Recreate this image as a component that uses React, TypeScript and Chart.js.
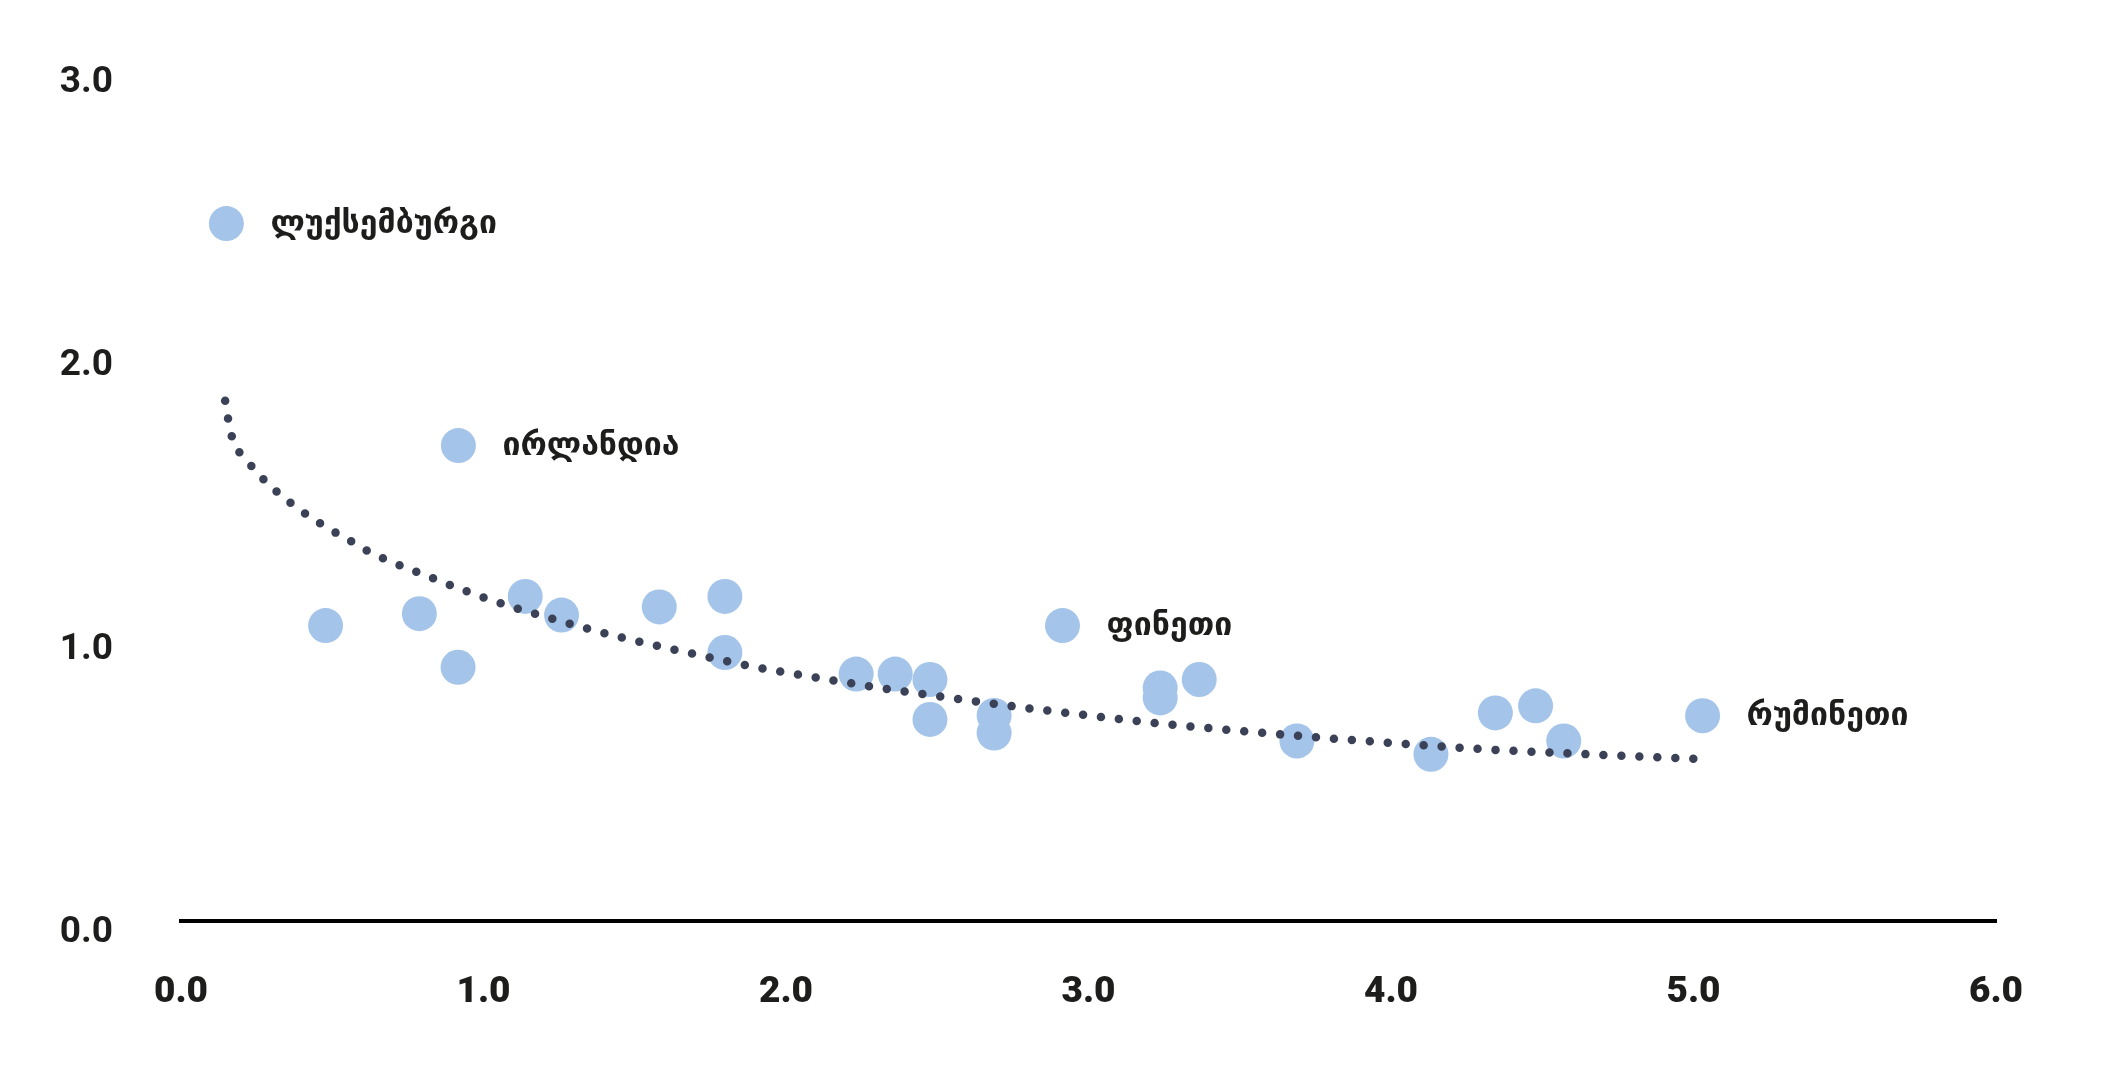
import React, { useEffect, useRef } from "react";
import { Chart, registerables } from "chart.js";

Chart.register(...registerables);

// Country scatter values
const countryX = [0.150, 0.917, 0.478, 0.788, 0.916, 1.138, 1.258, 1.581, 1.798, 1.798, 2.232, 2.361, 2.476, 2.476, 2.688, 2.688, 2.914, 3.237, 3.237, 3.366, 3.689, 4.132, 4.345, 4.478, 4.571, 5.030];
const countryY = [2.460, 1.677, 1.042, 1.084, 0.895, 1.145, 1.079, 1.108, 1.145, 0.947, 0.871, 0.871, 0.852, 0.711, 0.725, 0.663, 1.042, 0.822, 0.787, 0.852, 0.635, 0.588, 0.734, 0.759, 0.635, 0.724];
const countryLabels = ["ლუქსემბურგი", "ირლანდია", "", "", "", "", "", "", "", "", "", "", "", "", "", "", "ფინეთი", "", "", "", "", "", "", "", "", "რუმინეთი"];

// Trend curve
const trendX = [0.146, 0.165, 0.222, 0.298, 0.383, 0.474, 0.571, 0.617, 0.821, 1.025, 1.241, 1.452, 1.670, 1.883, 2.103, 2.319, 2.537, 2.760, 3.032, 3.253, 3.473, 3.694, 3.914, 4.131, 4.356, 4.576, 4.797, 5.024];
const trendY = [1.835, 1.720, 1.620, 1.532, 1.458, 1.393, 1.334, 1.305, 1.214, 1.132, 1.062, 1.001, 0.948, 0.899, 0.858, 0.821, 0.788, 0.756, 0.721, 0.695, 0.673, 0.653, 0.635, 0.618, 0.603, 0.592, 0.581, 0.571];

// Axis ticks
const xTickValues = [0, 1, 2, 3, 4, 5, 6];
const xTickLabels = ["0.0", "1.0", "2.0", "3.0", "4.0", "5.0", "6.0"];
const yTickValues = [0, 1, 2, 3];
const yTickLabels = ["0.0", "1.0", "2.0", "3.0"];

const labelPlugin = {
  id: "countryLabels",
  afterDatasetsDraw(chart: any) {
    const ctx = chart.ctx;
    const meta = chart.getDatasetMeta(1);
    ctx.save();
    ctx.font = "bold 32px 'DejaVu Sans'";
    ctx.fillStyle = "#1d1d1b";
    ctx.textAlign = "left";
    ctx.textBaseline = "middle";
    meta.data.forEach((el: any, i: number) => {
      const t = countryLabels[i];
      if (t) ctx.fillText(t, el.x + 44, el.y + 1);
    });
    ctx.restore();
  },
};

export default function App() {
  const ref = useRef<HTMLCanvasElement | null>(null);
  useEffect(() => {
    if (!ref.current) return;
    const chart = new Chart(ref.current, {
      type: "scatter",
      data: {
        datasets: [
          {
            label: "trend",
            data: trendX.map((x, i) => ({ x, y: trendY[i] })),
            showLine: true,
            borderColor: "#3b4157",
            borderWidth: 8.5,
            borderDash: [0, 18],
            borderCapStyle: "round",
            pointRadius: 0,
            cubicInterpolationMode: "monotone",
            order: 0,
          } as any,
          {
            label: "countries",
            data: countryX.map((x, i) => ({ x, y: countryY[i] })),
            backgroundColor: "#a4c5e9",
            borderWidth: 0,
            pointRadius: 17.5,
            pointHoverRadius: 17.5,
            order: 1,
          },
        ],
      },
      options: {
        responsive: false,
        animation: false,
        events: [],
        layout: { padding: { top: 70.5, right: 105, bottom: 48, left: 0 } },
        plugins: { legend: { display: false }, tooltip: { enabled: false } },
        scales: {
          x: {
            type: "linear",
            min: 0,
            max: 6,
            afterBuildTicks: (s: any) => {
              s.ticks = xTickValues.map((v) => ({ value: v }));
            },
            afterFit: (s: any) => {
              s.height = 100;
              s.paddingLeft = 0;
              s.paddingRight = 0;
            },
            grid: { display: false, drawTicks: false },
            border: { display: true, color: "#000000", width: 4 },
            ticks: {
              padding: 50,
              color: "#1d1d1b",
              font: { family: "Roboto", weight: "900", size: 37 },
              maxRotation: 0,
              callback: (v: any) => xTickLabels[xTickValues.indexOf(v)] ?? "",
            },
          },
          y: {
            type: "linear",
            min: 0,
            max: 3,
            afterBuildTicks: (s: any) => {
              s.ticks = yTickValues.map((v) => ({ value: v }));
            },
            afterFit: (s: any) => {
              s.width = 181;
              s.paddingTop = 0;
              s.paddingBottom = 0;
            },
            grid: { display: false, drawTicks: false },
            border: { display: false },
            ticks: {
              padding: 68,
              labelOffset: 12,
              color: "#1d1d1b",
              font: { family: "Roboto", weight: "bold", size: 37 },
              callback: (v: any) => yTickLabels[yTickValues.indexOf(v)] ?? "",
            },
          },
        },
      },
      plugins: [labelPlugin],
    });
    return () => chart.destroy();
  }, []);
  return (
    <div style={{ position: "absolute", left: 0, top: 0, width: 2101, height: 1069, background: "#ffffff" }}>
      <canvas ref={ref} width={2101} height={1069} style={{ display: "block" }} />
    </div>
  );
}
